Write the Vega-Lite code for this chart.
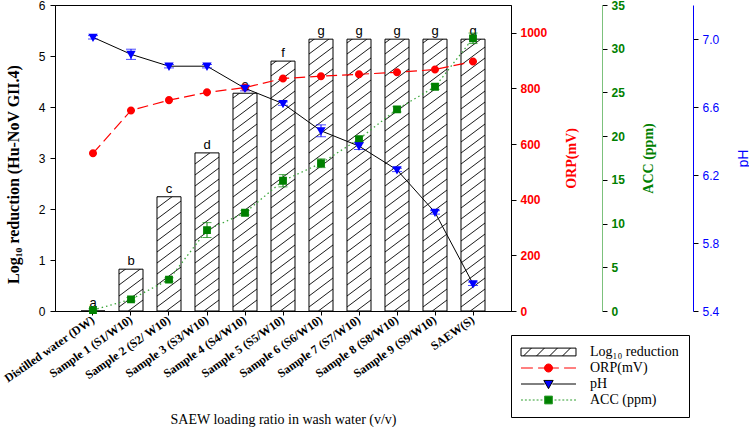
{
  "$schema": "https://vega.github.io/schema/vega-lite/v6.json",
  "autosize": {"type": "none"},
  "padding": {"left": 55, "top": 5, "right": 238, "bottom": 116},
  "width": 456,
  "height": 306,
  "background": "white",
  "config": {
    "view": {"stroke": "black", "strokeWidth": 1},
    "axis": {
      "grid": false,
      "domainColor": "black",
      "tickColor": "black",
      "tickSize": 5,
      "labelFont": "Liberation Sans",
      "labelFontSize": 12,
      "labelColor": "black",
      "titleFont": "Liberation Serif",
      "titleColor": "black"
    }
  },
  "data": {
    "values": [
      {"cat": "Distilled water (DW)", "log": 0, "letter": "a", "orp": 567, "ph": 7.01, "ph_err": 0.01, "acc": 0.1, "acc_err": 0.15},
      {"cat": "Sample 1 (S1/W10)", "log": 0.82, "letter": "b", "orp": 721, "ph": 6.91, "ph_err": 0.03, "acc": 1.34, "acc_err": 0.2},
      {"cat": "Sample 2 (S2/ W10)", "log": 2.24, "letter": "c", "orp": 758, "ph": 6.84, "ph_err": 0.01, "acc": 3.6, "acc_err": 0.2},
      {"cat": "Sample 3 (S3/W10)", "log": 3.1, "letter": "d", "orp": 786, "ph": 6.84, "ph_err": 0.01, "acc": 9.26, "acc_err": 0.85},
      {"cat": "Sample 4 (S4/W10)", "log": 4.27, "letter": "e", "orp": 803, "ph": 6.71, "ph_err": 0.015, "acc": 11.24, "acc_err": 0.25},
      {"cat": "Sample 5 (S5/W10)", "log": 4.9, "letter": "f", "orp": 836, "ph": 6.62, "ph_err": 0.01, "acc": 14.9, "acc_err": 0.7},
      {"cat": "Sample 6 (S6/W10)", "log": 5.33, "letter": "g", "orp": 844, "ph": 6.46, "ph_err": 0.035, "acc": 16.9, "acc_err": 0.5},
      {"cat": "Sample 7 (S7/W10)", "log": 5.33, "letter": "g", "orp": 851, "ph": 6.37, "ph_err": 0.02, "acc": 19.67, "acc_err": 0.3},
      {"cat": "Sample 8 (S8/W10)", "log": 5.33, "letter": "g", "orp": 858, "ph": 6.23, "ph_err": 0.01, "acc": 23.07, "acc_err": 0.3},
      {"cat": "Sample 9 (S9/W10)", "log": 5.33, "letter": "g", "orp": 868, "ph": 5.98, "ph_err": 0.01, "acc": 25.65, "acc_err": 0.3},
      {"cat": "SAEW(S)", "log": 5.33, "letter": "g", "orp": 897, "ph": 5.56, "ph_err": 0.01, "acc": 31.19, "acc_err": 0.6}
    ]
  },
  "layer": [
    {
      "layer": [
        {
          "mark": {
            "type": "point",
            "shape": "M-2.67,0L12,-11M-12,-4l24,-18M-12,-15l24,-18M-12,-26l24,-18M-12,-37l24,-18M-12,-48l24,-18M-12,-59l24,-18M-12,-70l24,-18M-12,-81l24,-18M-12,-92l24,-18M-12,-103l24,-18M-12,-114l24,-18M-12,-125l24,-18M-12,-136l24,-18M-12,-147l24,-18M-12,-158l24,-18M-12,-169l24,-18M-12,-180l24,-18M-12,-191l24,-18M-12,-202l24,-18M-12,-213l24,-18M-12,-224l24,-18M-12,-235l24,-18M-12,-246l24,-18M-12,-257l24,-18M-12,-268l24,-18M-12,-279l24,-18M-12,-290L5.33,-303M-12,-301L-9.33,-303",
            "size": 4,
            "filled": false,
            "stroke": "black",
            "strokeWidth": 0.9,
            "opacity": 1
          },
          "encoding": {
            "x": {
              "field": "cat",
              "type": "nominal",
              "sort": null,
              "scale": {"type": "band", "paddingInner": 0.3684, "paddingOuter": 0.6842},
              "axis": {
                "title": "SAEW loading ratio in wash water  (v/v)",
                "labelAngle": -35,
                "labelAlign": "right",
                "labelBaseline": "middle",
                "labelFont": "Liberation Serif",
                "labelFontWeight": "bold",
                "labelFontSize": 12,
                "labelPadding": 3,
                "tickSize": 4,
                "titleFontSize": 14,
                "titleFontWeight": "normal",
                "titleY": 108,
                "titleBaseline": "middle"
              }
            },
            "y": {
              "datum": 0,
              "type": "quantitative",
              "scale": {"domain": [0, 6]},
              "axis": {
                "title": "Log₁₀ reduction (Hu-NoV GII.4)",
                "titleFontWeight": "bold",
                "titleFontSize": 16,
                "titleX": -42,
                "titleY": 169,
                "titleBaseline": "middle",
                "values": [0, 1, 2, 3, 4, 5, 6],
                "labelPadding": 5
              }
            }
          }
        },
        {
          "mark": {"type": "bar", "color": "white"},
          "encoding": {
            "x": {"field": "cat", "type": "nominal", "sort": null},
            "y": {"field": "log", "type": "quantitative"},
            "y2": {"datum": 5.98}
          }
        },
        {
          "mark": {"type": "bar", "fill": "white", "fillOpacity": 0, "stroke": "black", "strokeWidth": 1},
          "encoding": {
            "x": {"field": "cat", "type": "nominal", "sort": null},
            "y": {"field": "log", "type": "quantitative"}
          }
        },
        {
          "mark": {"type": "text", "dy": -4, "baseline": "alphabetic", "font": "Liberation Sans", "fontSize": 13, "color": "black"},
          "encoding": {
            "x": {"field": "cat", "type": "nominal", "sort": null},
            "y": {"field": "log", "type": "quantitative"},
            "text": {"field": "letter"}
          }
        }
      ]
    },
    {
      "layer": [
        {
          "mark": {"type": "line", "color": "#ff0000", "strokeDash": [11, 5], "strokeWidth": 1.2},
          "encoding": {
            "x": {"field": "cat", "type": "nominal", "sort": null},
            "y": {
              "field": "orp",
              "type": "quantitative",
              "title": "ORP(mV)",
              "scale": {"domain": [0, 1050]},
              "axis": {
                "orient": "right",
                "title": "ORP(mV)",
                "titleColor": "#ff0000",
                "titleFontWeight": "bold",
                "titleFontSize": 14,
                "titleAngle": 270,
                "titleX": 60,
                "titleBaseline": "middle",
                "labelColor": "#ff0000",
                "labelFontWeight": "bold",
                "labelPadding": 4,
                "format": "d",
                "values": [0, 200, 400, 600, 800, 1000]
              }
            }
          }
        },
        {
          "mark": {"type": "point", "filled": true, "size": 169, "strokeWidth": 0, "opacity": 1},
          "encoding": {
            "x": {"field": "cat", "type": "nominal", "sort": null},
            "y": {"field": "orp", "type": "quantitative", "title": "ORP(mV)"},
            "shape": {
              "datum": "ORP(mV)",
              "type": "nominal",
              "scale": {
                "domain": ["Log₁₀ reduction", "ORP(mV)", "pH", "ACC (ppm)"],
                "range": [
                  "M-4.23,-0.6H4.23V0.6H-4.23ZM-3.83,0.6L-2.63,-0.6M-1.83,0.6L-0.63,-0.6M0.17,0.6L1.37,-0.6M2.17,0.6L3.37,-0.6",
                  "M-4.23,0H-2.4M-1.6,0H-0.5M0.5,0H1.6M2.4,0H4.23M0.62,0A0.62,0.62,0,1,1,-0.62,0A0.62,0.62,0,1,1,0.62,0Z",
                  "M-4.23,0H-0.6M0.6,0H4.23M-0.72,-0.55H0.72L0,0.72Z",
                  "M-4.23,0h0.3M-3.63,0h0.3M-3.03,0h0.3M-2.43,0h0.3M-1.83,0h0.3M-1.23,0h0.3M0.93,0h0.3M1.53,0h0.3M2.13,0h0.3M2.73,0h0.3M3.33,0h0.3M3.93,0h0.3M-0.6,-0.6H0.6V0.6H-0.6Z"
                ]
              },
              "legend": {
                "title": null,
                "orient": "none",
                "legendX": 456,
                "legendY": 330,
                "strokeColor": "black",
                "fillColor": "white",
                "padding": 10,
                "symbolSize": 169,
                "symbolStrokeWidth": 1,
                "symbolOffset": 20.5,
                "labelFont": "Liberation Serif",
                "labelFontSize": 14,
                "labelColor": "black",
                "labelOffset": 34.5,
                "labelLimit": 200,
                "rowPadding": 2
              }
            },
            "fill": {
              "datum": "ORP(mV)",
              "type": "nominal",
              "scale": {
                "domain": ["Log₁₀ reduction", "ORP(mV)", "pH", "ACC (ppm)"],
                "range": ["white", "#ff0000", "#0000ff", "#008000"]
              }
            },
            "stroke": {
              "datum": "ORP(mV)",
              "type": "nominal",
              "scale": {
                "domain": ["Log₁₀ reduction", "ORP(mV)", "pH", "ACC (ppm)"],
                "range": ["black", "#ff0000", "black", "#2e9e2e"]
              }
            }
          }
        }
      ]
    },
    {
      "layer": [
        {
          "mark": {"type": "line", "color": "#3aa63a", "strokeDash": [1.5, 3], "strokeWidth": 1.3},
          "encoding": {
            "x": {"field": "cat", "type": "nominal", "sort": null},
            "y": {
              "field": "acc",
              "type": "quantitative",
              "title": "ACC (ppm)",
              "scale": {"domain": [0, 35]},
              "axis": {
                "orient": "right",
                "offset": 91,
                "title": "ACC (ppm)",
                "titleColor": "#008000",
                "titleFontWeight": "bold",
                "titleFontSize": 14,
                "titleAngle": 270,
                "titleX": 46,
                "titleBaseline": "middle",
                "labelColor": "#008000",
                "labelFontWeight": "bold",
                "labelPadding": 4,
                "domainColor": "#7cc17c",
                "values": [0, 5, 10, 15, 20, 25, 30, 35]
              }
            }
          }
        },
        {
          "mark": {"type": "errorbar", "color": "#008000", "ticks": {"size": 9, "color": "#008000"}},
          "encoding": {
            "x": {"field": "cat", "type": "nominal", "sort": null},
            "y": {"field": "acc", "type": "quantitative", "title": "ACC (ppm)"},
            "yError": {"field": "acc_err"}
          }
        },
        {
          "mark": {"type": "point", "filled": true, "size": 169, "strokeWidth": 0, "opacity": 1},
          "encoding": {
            "x": {"field": "cat", "type": "nominal", "sort": null},
            "y": {"field": "acc", "type": "quantitative", "title": "ACC (ppm)"},
            "shape": {"datum": "ACC (ppm)", "type": "nominal"},
            "fill": {"datum": "ACC (ppm)", "type": "nominal"},
            "stroke": {"datum": "ACC (ppm)", "type": "nominal"}
          }
        }
      ]
    },
    {
      "layer": [
        {
          "mark": {"type": "line", "color": "black", "strokeWidth": 1},
          "encoding": {
            "x": {"field": "cat", "type": "nominal", "sort": null},
            "y": {
              "field": "ph",
              "type": "quantitative",
              "title": "pH",
              "scale": {"domain": [5.4, 7.2]},
              "axis": {
                "orient": "right",
                "offset": 182,
                "title": "pH",
                "titleFont": "Liberation Sans",
                "titleColor": "#0000ff",
                "titleFontWeight": "normal",
                "titleFontSize": 14,
                "titleAngle": 270,
                "titleX": 50,
                "titleBaseline": "middle",
                "labelColor": "#0000ff",
                "labelPadding": 4,
                "domainColor": "#0000ff",
                "format": ".1f",
                "values": [5.4, 5.6, 5.8, 6.0, 6.2, 6.4, 6.6, 6.8, 7.0, 7.2]
              }
            }
          }
        },
        {
          "mark": {"type": "errorbar", "color": "#0000ff", "ticks": {"size": 10, "color": "#0000ff"}},
          "encoding": {
            "x": {"field": "cat", "type": "nominal", "sort": null},
            "y": {"field": "ph", "type": "quantitative", "title": "pH"},
            "yError": {"field": "ph_err"}
          }
        },
        {
          "mark": {"type": "point", "filled": true, "size": 169, "strokeWidth": 0, "opacity": 1},
          "encoding": {
            "x": {"field": "cat", "type": "nominal", "sort": null},
            "y": {"field": "ph", "type": "quantitative", "title": "pH"},
            "shape": {"datum": "pH", "type": "nominal"},
            "fill": {"datum": "pH", "type": "nominal"},
            "stroke": {"datum": "pH", "type": "nominal"}
          }
        }
      ]
    }
  ],
  "resolve": {"scale": {"y": "independent"}, "axis": {"y": "independent"}}
}
